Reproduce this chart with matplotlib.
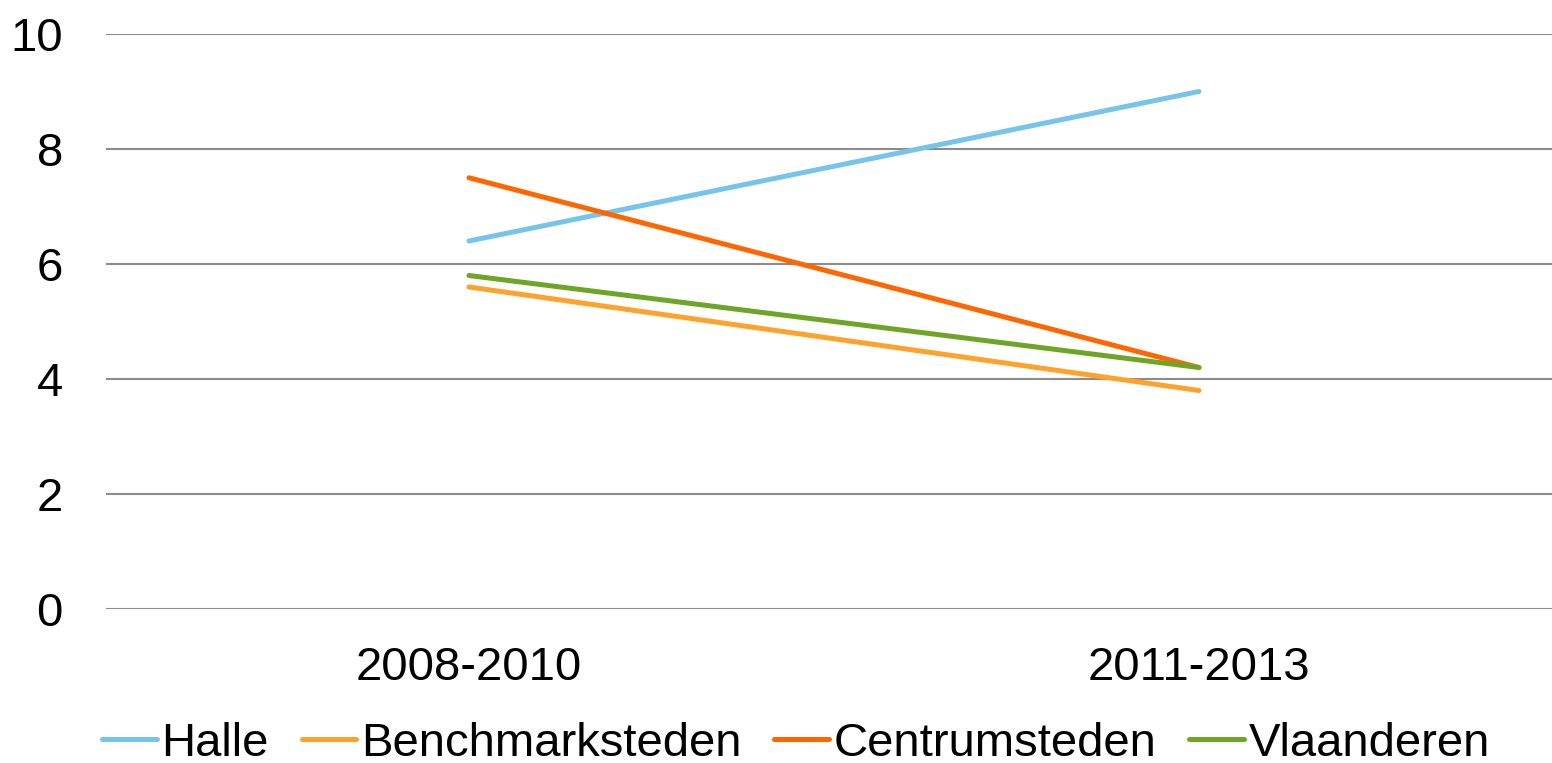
import matplotlib.pyplot as plt

# === DATA ===
periods = ["2008-2010", "2011-2013"]
halle = [6.4, 9.0]
benchmark = [5.6, 3.8]
centrum = [7.5, 4.2]
vlaanderen = [5.8, 4.2]

series_names = ["Halle", "Benchmarksteden", "Centrumsteden", "Vlaanderen"]
series_values = [halle, benchmark, centrum, vlaanderen]
colors = ["#75C4EC", "#FFA22B", "#FF6600", "#6FA524"]

plt.rcParams['font.family'] = ['Liberation Sans', 'DejaVu Sans']

W, H = 1552, 763
fig = plt.figure(figsize=(W / 100, H / 100), dpi=100)
ax = fig.add_axes([106 / W, 154 / H, 1 - 106 / W, 575 / H])

x = list(range(len(periods)))
for name, vals, c in zip(series_names, series_values, colors):
    ax.plot(x, vals, color=c, lw=3.6, label=name, solid_capstyle='round')

ax.set_ylim(0, 10)
ax.set_yticks([0, 2, 4, 6, 8, 10])
ax.set_xticks(x)
ax.set_xticklabels(periods)
# pixel mapping: 0 -> 469px, 1 -> 1199px
ax.set_xlim((106 - 469) / 730, (W - 469) / 730)

ax.grid(axis='y', color='#8C8C8C', lw=1.5)
ax.set_axisbelow(True)
for s in ax.spines.values():
    s.set_visible(False)
ax.tick_params(axis='both', length=0, labelsize=34)
ax.tick_params(axis='y', pad=31)
ax.tick_params(axis='x', pad=27)

fig.legend(loc='center', bbox_to_anchor=(796 / W, 19 / H), ncol=4, frameon=False,
           fontsize=34, handlelength=1.15, handletextpad=0.1, columnspacing=0.7,
           borderaxespad=0, borderpad=0)

fig.savefig("out.png", dpi=100)
